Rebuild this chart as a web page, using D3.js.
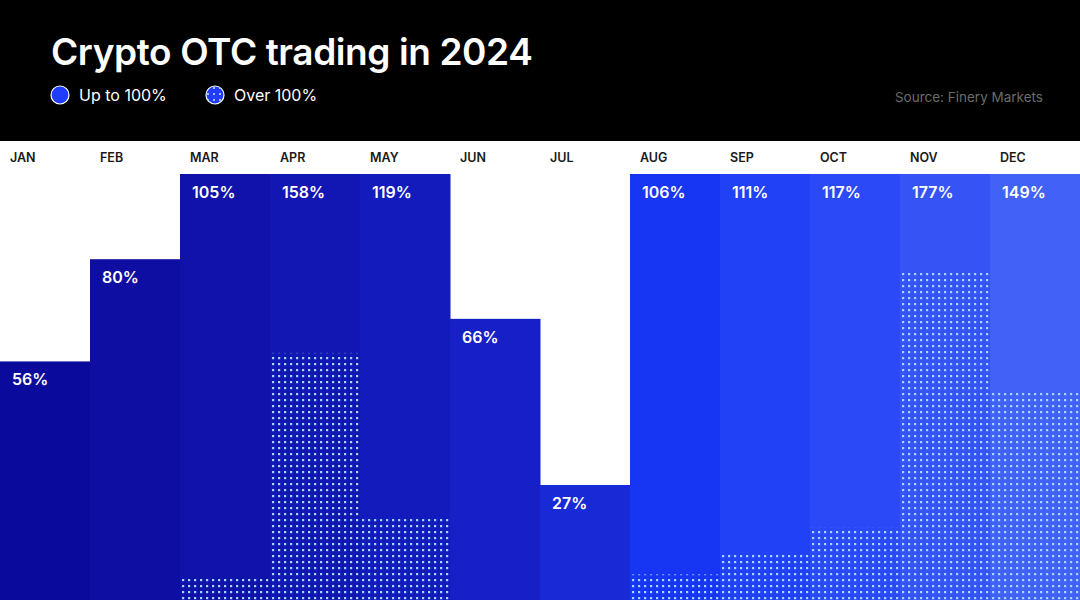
<!DOCTYPE html>
<html><head><meta charset="utf-8">
<script src="https://cdn.jsdelivr.net/npm/d3@7"></script>
<style>html,body{margin:0;padding:0;background:#fff;}svg{display:block;font-family:Inter,"Noto Sans",sans-serif;}</style>
</head><body>
<svg id="c" width="1080" height="600"></svg>
<script>
const months = ["JAN","FEB","MAR","APR","MAY","JUN","JUL","AUG","SEP","OCT","NOV","DEC"];
const values = [56,80,105,158,119,66,27,106,111,117,177,149];
const colors = ["#0a0a9c","#0e0ea2","#1012aa","#1216b2","#141bbc","#1620c6","#1829d6","#1636f4","#2141f6","#2b49f6","#3653f6","#4262f7"];
const legendLabels = ["Up to 100%","Over 100%"];
const title = "Crypto OTC trading in 2024";
const source = "Source: Finery Markets";

const W = 1080, H = 600;
const svg = d3.select("#c");
const defs = svg.append("defs");
const pat = defs.append("pattern").attr("id","dots").attr("patternUnits","userSpaceOnUse")
  .attr("width",6).attr("height",6).attr("y",1);
pat.append("rect").attr("x",2).attr("y",2).attr("width",2.2).attr("height",2.2).attr("fill","#a0d8ff");
const pat2 = defs.append("pattern").attr("id","ldots").attr("patternUnits","userSpaceOnUse")
  .attr("width",6).attr("height",6).attr("x",1).attr("y",1);
pat2.append("circle").attr("cx",3).attr("cy",3).attr("r",1).attr("fill","#cfe6ff");

// header
svg.append("rect").attr("x",0).attr("y",0).attr("width",W).attr("height",141).attr("fill","#000");
svg.append("text").attr("x",51).attr("y",65).attr("fill","#fff").attr("font-size",37).attr("font-weight",600)
  .attr("letter-spacing",-0.4).text(title);

const lg = svg.append("g");
const lx = [60,215];
legendLabels.forEach((t,i)=>{
  lg.append("circle").attr("cx",lx[i]).attr("cy",95).attr("r",9).attr("fill","#1f3cff").attr("stroke","#fff").attr("stroke-width",1.2);
  if(i===1){ lg.append("circle").attr("cx",lx[i]).attr("cy",95).attr("r",8.4).attr("fill","url(#ldots)"); }
  lg.append("text").attr("x",lx[i]+19).attr("y",101).attr("fill","#fff").attr("font-size",16).attr("font-weight",400).text(t);
});
svg.append("text").attr("x",1043).attr("y",102).attr("text-anchor","end").attr("fill","#6b6b6b").attr("font-size",13.5).text(source);

const x = d3.scaleBand().domain(months).range([0,W]).padding(0);
const y = d3.scaleLinear().domain([0,100]).range([H,174]);

const g = svg.append("g");
months.forEach((m,i)=>{
  const v = values[i];
  const capped = Math.min(v,100);
  g.append("rect").attr("x",x(m)).attr("y",y(capped)).attr("width",x.bandwidth()+0.5).attr("height",H-y(capped)).attr("fill",colors[i]);
  if(v>100){
    const over = v-100;
    g.append("rect").attr("x",x(m)).attr("y",y(over)).attr("width",x.bandwidth()).attr("height",H-y(over)).attr("fill","url(#dots)");
  }
  g.append("text").attr("x",x(m)+12).attr("y",y(capped)+24).attr("fill","#fff").attr("font-size",16).attr("font-weight",600).text(v+"%");
  g.append("text").attr("x",x(m)+10).attr("y",162).attr("fill","#1a1a1a").attr("font-size",12.5).attr("font-weight",600).text(m);
});
</script>
</body></html>
